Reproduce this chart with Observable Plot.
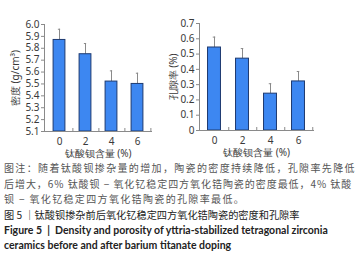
<!DOCTYPE html>
<html>
<head>
<meta charset="utf-8">
<script src="https://cdn.jsdelivr.net/npm/d3@7"></script>
<script src="https://cdn.jsdelivr.net/npm/@observablehq/plot@0.6"></script>
<style>
  html, body { margin: 0; padding: 0; background: #fff; }
  #wrap { position: relative; width: 355px; height: 256px; overflow: hidden; font-family: "Noto Sans CJK SC", "Noto Sans", sans-serif; }
  .chart { position: absolute; top: 0; }
  #cap { position: absolute; left: 4px; top: 160px; width: 350px; white-space: nowrap; }
  .note { font-size: 10px; letter-spacing: 1.35px; color: #555; line-height: 15.5px; }
  .note .l2 { letter-spacing: 0.95px; }
  .fig { font-size: 10.2px; color: #222; line-height: 16px; margin-top: 0px; }
  .en { font-family: Lato, "Open Sans", sans-serif; font-weight: bold; font-size: 10.5px; color: #222; line-height: 15px; }
</style>
</head>
<body>
<div id="wrap">
  <div id="left" class="chart" style="left:0px"></div>
  <div id="right" class="chart" style="left:160px"></div>
  <div id="cap">
    <div class="note">图注：随着钛酸钡掺杂量的增加，陶瓷的密度持续降低，孔隙率先降低<br><span class="l2">后增大，6% 钛酸钡 − 氧化钇稳定四方氧化锆陶瓷的密度最低，4% 钛酸</span><br>钡 − 氧化钇稳定四方氧化锆陶瓷的孔隙率最低。</div>
    <div class="fig">图 5 ｜钛酸钡掺杂前后氧化钇稳定四方氧化锆陶瓷的密度和孔隙率</div>
    <div class="en">Figure 5 &nbsp;|&nbsp; Density and porosity of yttria-stabilized tetragonal zirconia<br>ceramics before and after barium titanate doping</div>
  </div>
</div>
<script>
const categories = ["0", "2", "4", "6"];
const density = [5.87, 5.75, 5.52, 5.50];
const densityErr = [0.09, 0.09, 0.09, 0.09];
const porosity = [0.543, 0.470, 0.241, 0.321];
const porosityErr = [0.068, 0.066, 0.065, 0.065];
const densityTicks = [5.1, 5.2, 5.3, 5.4, 5.5, 5.6, 5.7, 5.8, 5.9, 6.0];
const porosityTicks = [0, 0.1, 0.2, 0.3, 0.4, 0.5, 0.6, 0.7];
const xTitle = "钛酸钡含量 (%)";

const fill = "#3d87f1";
const edge = "#1e3a70";
const grey = "#8a8a8a";
const txt = "#3a3a3a";

function makeChart({values, errs, ticks, domain, base, ylabel, fmt, width, marginLeft, marginRight, marginTop, marginBottom, labelOffset}) {
  const data = categories.map((c, i) => ({c, v: values[i], e: values[i] + errs[i]}));
  const height = 162;
  const plotW = width - marginLeft - marginRight;
  const step = plotW / categories.length;
  const plotH = height - marginTop - marginBottom;
  return Plot.plot({
    width, height, marginLeft, marginRight, marginTop, marginBottom,
    style: {fontFamily: "'Noto Sans', 'DejaVu Sans', sans-serif", fontSize: "10px", color: txt, background: "transparent"},
    x: {domain: categories, padding: 0, label: null},
    y: {domain, label: null},
    marks: [
      Plot.ruleX(data, {x: "c", y1: "v", y2: "e", stroke: grey, strokeWidth: 1}),
      Plot.tickY(data, {x: "c", y: "e", stroke: grey, strokeWidth: 1, insetLeft: step / 2 - 1.5, insetRight: step / 2 - 1.5}),
      Plot.barY(data, {x: "c", y1: base, y2: "v", fill, stroke: edge, strokeWidth: 1, insetLeft: step / 4 + 0.4, insetRight: step / 4 + 0.4}),
      Plot.ruleX(categories, {x: d => d, dx: step / 2, stroke: grey, insetTop: plotH - 3}),
      Plot.frame({anchor: "left", stroke: grey}),
      Plot.frame({anchor: "bottom", stroke: grey}),
      Plot.axisY({ticks, tickFormat: fmt, tickSize: 3, stroke: grey, tickPadding: 2, fill: txt, label: ylabel, labelAnchor: "center", labelArrow: "none", labelOffset, fontSize: 10}),
      Plot.axisX({tickSize: 0, tickPadding: 6, fill: txt, label: xTitle, labelAnchor: "center", labelArrow: "none", labelOffset: 25, fontSize: 10})
    ]
  });
}

document.getElementById("left").append(makeChart({
  values: density, errs: densityErr, ticks: densityTicks, domain: [5.1, 6.0], base: 5.1,
  ylabel: "密度 (g/cm³)", fmt: d => d.toFixed(1),
  width: 160, marginLeft: 44, marginRight: 9, marginTop: 24, marginBottom: 31, labelOffset: 33
}));
document.getElementById("right").append(makeChart({
  values: porosity, errs: porosityErr, ticks: porosityTicks, domain: [0, 0.7], base: 0,
  ylabel: "孔隙率 (%)", fmt: d => d === 0 ? "0" : d.toFixed(1),
  width: 195, marginLeft: 39, marginRight: 42, marginTop: 23, marginBottom: 32, labelOffset: 30
}));
</script>
</body>
</html>
